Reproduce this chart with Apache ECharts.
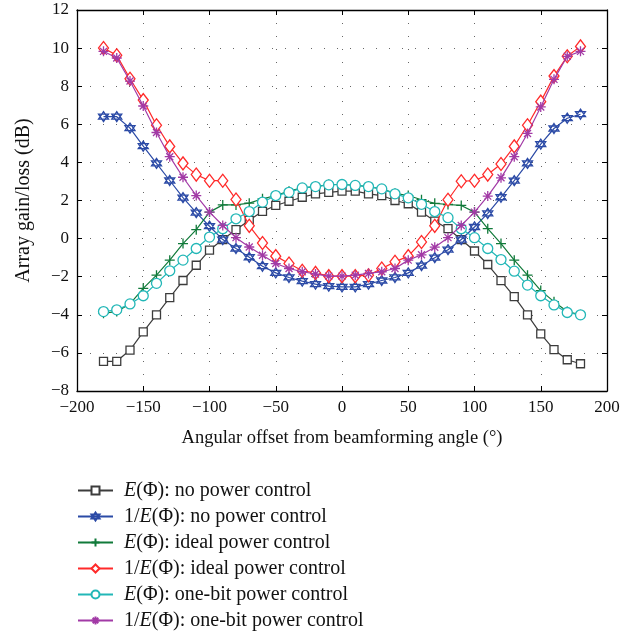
<!DOCTYPE html>
<html><head><meta charset="utf-8">
<script src="https://cdn.jsdelivr.net/npm/echarts@6/dist/echarts.min.js"></script>
<style>html,body{margin:0;padding:0;background:#fff}#c{width:639px;height:636px}</style>
</head><body><div id="c"></div>
<script>
const angles = [-180,-170,-160,-150,-140,-130,-120,-110,-100,-90,-80,-70,-60,-50,-40,-30,-20,-10,0,10,20,30,40,50,60,70,80,90,100,110,120,130,140,150,160,170,180];
const eNoPC = [-6.44,-6.44,-5.85,-4.9,-4.0,-3.1,-2.2,-1.4,-0.6,-0.05,0.47,0.96,1.43,1.74,1.96,2.17,2.35,2.43,2.49,2.49,2.35,2.26,2.0,1.83,1.39,0.92,0.52,-0.05,-0.65,-1.36,-2.21,-3.05,-4.0,-5.0,-5.83,-6.36,-6.57];
const invNoPC = [6.4,6.4,5.8,4.85,3.95,3.05,2.15,1.36,0.65,-0.05,-0.52,-0.98,-1.45,-1.8,-2.04,-2.23,-2.39,-2.49,-2.53,-2.53,-2.39,-2.2,-2.04,-1.8,-1.42,-1.0,-0.58,-0.05,0.61,1.32,2.17,3.04,3.95,4.96,5.78,6.32,6.53];
const eIdeal = [-3.92,-3.83,-3.43,-2.61,-1.92,-1.13,-0.26,0.47,1.39,1.77,1.77,1.86,2.09,2.26,2.49,2.66,2.73,2.84,2.84,2.8,2.73,2.61,2.38,2.26,2.04,1.85,1.79,1.74,1.39,0.52,-0.26,-1.13,-1.92,-2.73,-3.31,-3.83,-4.0];
const invIdeal = [10.0,9.62,8.39,7.27,5.95,4.84,3.95,3.36,3.04,3.04,2.05,0.67,-0.23,-0.92,-1.31,-1.69,-1.8,-1.97,-1.97,-1.97,-1.92,-1.57,-1.22,-0.92,-0.18,0.67,2.04,3.01,3.04,3.36,3.92,4.84,5.95,7.19,8.53,9.57,10.09];
const eOneBit = [-3.83,-3.74,-3.43,-3.0,-2.35,-1.69,-1.13,-0.52,0.08,0.52,1.04,1.42,1.91,2.26,2.43,2.66,2.73,2.82,2.84,2.79,2.73,2.61,2.35,2.14,1.8,1.42,1.1,0.52,0.05,-0.52,-1.1,-1.71,-2.44,-3.0,-3.48,-3.88,-4.0];
const invOneBit = [9.83,9.48,8.27,6.96,5.57,4.3,3.22,2.26,1.39,0.69,0.05,-0.44,-0.87,-1.31,-1.57,-1.74,-1.86,-1.97,-1.97,-1.92,-1.83,-1.74,-1.57,-1.13,-0.85,-0.45,0.05,0.69,1.39,2.23,3.19,4.3,5.52,6.91,8.36,9.57,9.83];
const seriesNames = ['E(Φ): no power control','1/E(Φ): no power control','E(Φ): ideal power control','1/E(Φ): ideal power control','E(Φ): one-bit power control','1/E(Φ): one-bit power control'];
const xTicks = [-200,-150,-100,-50,0,50,100,150,200];
const yTicks = [-8,-6,-4,-2,0,2,4,6,8,10,12];

const FONT = '"Liberation Serif","DejaVu Serif",serif';
const colors = ['#3c3c3c','#2b4aa6','#117a3a','#ff2a2a','#22b7b7','#a23aa6'];
const hexagram = 'path://M0,-1 L0.866,0.5 L-0.866,0.5 Z M0,1 L0.866,-0.5 L-0.866,-0.5 Z';
const plus = 'path://M0,-1 L0,1 M-1,0 L1,0';
const aster = 'path://M0,-1 L0,1 M-1,0 L1,0 M-0.7,-0.7 L0.7,0.7 M-0.7,0.7 L0.7,-0.7';
const symbols = ['rect', hexagram, plus, 'diamond', 'circle', aster];
const sizes = [8, 10, 10, [10,13], 10, 10];
const fills = ['#fff','#fff','none','#fff','#fff','none'];
const datas = [eNoPC, invNoPC, eIdeal, invIdeal, eOneBit, invOneBit];

const series = datas.map((d, i) => ({
  name: seriesNames[i], type: 'line', xAxisIndex: 0, yAxisIndex: 0,
  data: angles.map((a, k) => [a, d[k]]),
  symbol: symbols[i], symbolSize: sizes[i], showSymbol: true,
  lineStyle: {color: colors[i], width: 1.2},
  itemStyle: {color: fills[i] === 'none' ? colors[i] : fills[i], borderColor: colors[i], borderWidth: 1.3},
  emphasis: {disabled: true}, animation: false, z: 2 + i
}));

const fmtMinus = v => String(v).replace('-', '\u2212');
const axisCommon = {
  axisLine: {show: true, onZero: false, lineStyle: {color: '#000', width: 1.3}},
  axisTick: {show: true, inside: true, length: 5, lineStyle: {color: '#000'}},
};
const legends = seriesNames.map((name, i) => ({
  orient: 'vertical', left: 77, top: 480 + 26 * i, padding: 0, itemGap: 0, itemWidth: 35, itemHeight: 10,
  data: [name],
  formatter: n => {
    const m = n.match(/^(1\/)?E(.*)$/);
    return (m[1] || '') + '{i|E}' + m[2];
  },
  textStyle: {fontFamily: FONT, fontSize: 20, lineHeight: 21, color: '#111', padding: [0,0,0,6],
    rich: {i: {fontFamily: FONT, fontStyle: 'italic', fontSize: 20, lineHeight: 21, color: '#111'}}},
  inactiveColor: '#999'
}));
const chart = echarts.init(document.getElementById('c'), null, {renderer: 'canvas'});
chart.setOption({
  backgroundColor: '#fff',
  animation: false,
  grid: {left: 77, right: 32, top: 10, bottom: 245, containLabel: false},
  legend: legends,
  xAxis: [{
    type: 'value', min: -200, max: 200, interval: 50, position: 'bottom',
    name: 'Angular offset from beamforming angle (\u00B0)', nameLocation: 'middle', nameGap: 38,
    nameTextStyle: {fontFamily: FONT, fontSize: 18.5, color: '#111'},
    axisLabel: {fontFamily: FONT, fontSize: 17, color: '#111', margin: 8, formatter: fmtMinus},
    splitLine: {show: true, lineStyle: {color: '#666', width: 1, type: [1, 12]}},
    ...axisCommon
  }, {
    type: 'value', min: -200, max: 200, interval: 50, position: 'top',
    axisLabel: {show: false}, splitLine: {show: false}, ...axisCommon
  }],
  yAxis: [{
    type: 'value', min: -8, max: 12, interval: 2, position: 'left',
    name: 'Array gain/loss (dB)', nameLocation: 'middle', nameGap: 43,
    nameTextStyle: {fontFamily: FONT, fontSize: 20, color: '#111'},
    axisLabel: {fontFamily: FONT, fontSize: 17, color: '#111', margin: 8, formatter: fmtMinus},
    splitLine: {show: true, lineStyle: {color: '#666', width: 1, type: [1, 12]}},
    ...axisCommon
  }, {
    type: 'value', min: -8, max: 12, interval: 2, position: 'right',
    axisLabel: {show: false}, splitLine: {show: false}, ...axisCommon
  }],
  series: series
});
</script>
</body></html>
